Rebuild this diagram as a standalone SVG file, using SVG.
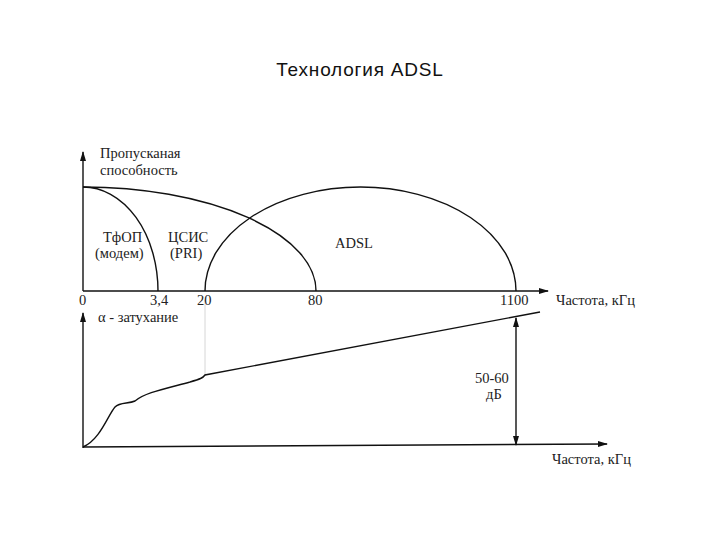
<svg xmlns="http://www.w3.org/2000/svg" width="720" height="540" viewBox="0 0 720 540">
<style>
.s{font-family:"Liberation Serif",serif;font-size:14.5px;fill:#222}
.l{fill:none;stroke:#111;stroke-width:1.4}
</style>
<defs><marker id="a" markerWidth="10" markerHeight="8" refX="9" refY="4" orient="auto" markerUnits="userSpaceOnUse"><path d="M0,1 L10,4 L0,7z" fill="#111"/></marker></defs>
<rect width="720" height="540" fill="#fff"/>
<text x="360" y="76" text-anchor="middle" font-family="Liberation Sans,sans-serif" font-size="19" letter-spacing="0.8" fill="#111">Технология ADSL</text>
<g id="connectors">
<line class="l" x1="83" y1="291" x2="83" y2="152" marker-end="url(#a)"/>
<line class="l" x1="83" y1="291" x2="548" y2="291" marker-end="url(#a)"/>
<line class="l" x1="83" y1="448" x2="83" y2="313" marker-end="url(#a)"/>
<line class="l" x1="83" y1="447" x2="607" y2="444" marker-end="url(#a)"/>
<line class="l" x1="516" y1="330" x2="516" y2="318" marker-end="url(#a)"/>
<line class="l" x1="516" y1="330" x2="516" y2="445" marker-end="url(#a)"/>
<line x1="205" y1="300" x2="205" y2="376" stroke="#ccc" stroke-width="0.8"/>
</g>
<g id="curves">
<path class="l" d="M83,187 A75,104 0 0 1 158,291"/>
<path class="l" d="M83,187 A233,104 0 0 1 316,291"/>
<path class="l" d="M205,291 A155.5,104 0 0 1 516,291"/>
<path class="l" d="M83,447 C100,440 108,415 115,407 C120,402 128,404 135,401 C145,393 160,390 190,382 C200,379 203,378 205,375 L540,312"/>
</g>
<g id="labels">
<text class="s" x="100" y="158">Пропусканая</text>
<text class="s" x="100" y="175">способность</text>
<text class="s" x="103" y="242">ТфОП</text>
<text class="s" x="95" y="258">(модем)</text>
<text class="s" x="168" y="242">ЦСИС</text>
<text class="s" x="170" y="258">(PRI)</text>
<text class="s" x="335" y="248">ADSL</text>
<text class="s" x="79" y="305">0</text>
<text class="s" x="150" y="305">3,4</text>
<text class="s" x="197" y="305">20</text>
<text class="s" x="308" y="305">80</text>
<text class="s" x="500" y="305">1100</text>
<text class="s" x="556" y="305">Частота, кГц</text>
<text class="s" x="98" y="322">α - затухание</text>
<text class="s" x="475" y="383">50-60</text>
<text class="s" x="486" y="399">дБ</text>
<text class="s" x="552" y="464">Частота, кГц</text>
</g>
</svg>
